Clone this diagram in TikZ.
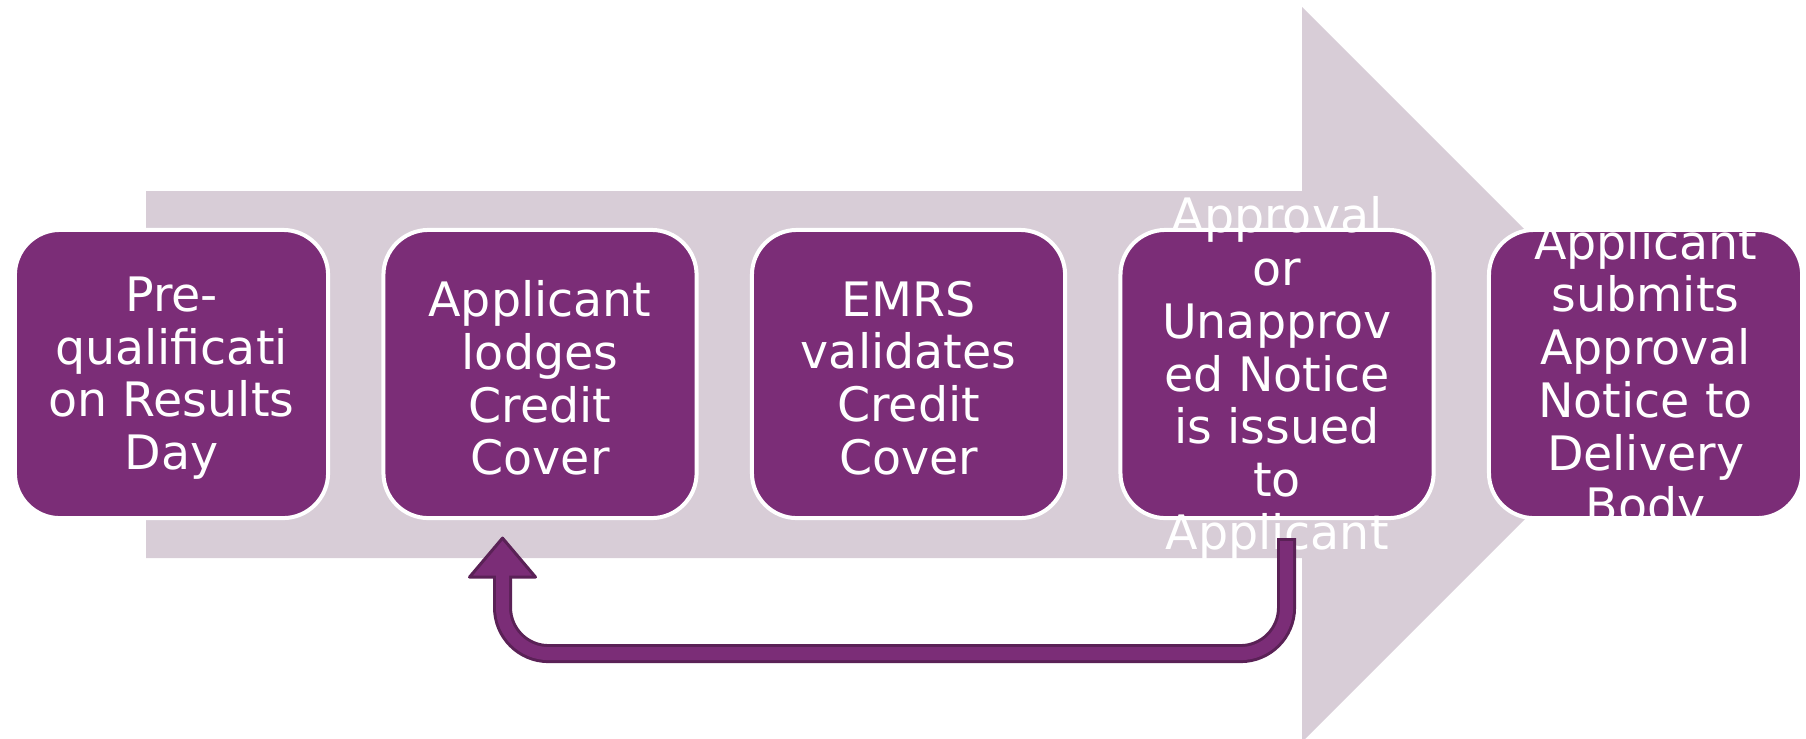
\documentclass[tikz,border=0pt]{standalone}
\usepackage{fontspec}
\newfontfamily\boxfont{DejaVu Sans}
\usetikzlibrary{positioning, calc}
\definecolor{boxpurple}{RGB}{123,45,119}
\definecolor{arrowgrey}{RGB}{216,205,215}
\definecolor{darkpurple}{RGB}{90,33,86}
\tikzset{stepbox/.style={rectangle, rounded corners=0.45cm, fill=boxpurple, draw=white, line width=0.04cm, minimum width=3.13cm, minimum height=2.88cm, inner sep=0pt, outer sep=0pt}}
\tikzset{steptext/.style={text=white, font=\boxfont\fontsize{13.5}{15}\selectfont, align=center, inner sep=0pt, yshift=-0.04cm}}

\begin{document}
\begin{tikzpicture}[x=0.01cm, y=-0.01cm, node distance=0.553cm]
  \useasboundingbox (0,0) rectangle (1806,738);
  \clip (0,0) rectangle (1806,738);

  \fill[arrowgrey] (146,191) -- (1302,191) -- (1302,7) -- (1669.5,374.5)
    -- (1302,742) -- (1302,558) -- (146,558) -- cycle;

  \node[stepbox] (s1) at (171.5,374) [label={[steptext]center:Pre-\\qualificati\\on Results\\Day}] {};
  \node[stepbox] (s2) [right=of s1, label={[steptext]center:Applicant\\lodges\\Credit\\Cover}] {};
  \node[stepbox] (s3) [right=of s2, label={[steptext]center:EMRS\\validates\\Credit\\Cover}] {};
  \node[stepbox] (s4) [right=of s3, label={[steptext]center:Approval\\or\\Unapprov\\ed Notice\\is issued\\to\\Applicant}] {};
  \node[stepbox] (s5) [right=of s4, label={[steptext]center:Applicant\\submits\\Approval\\Notice to\\Delivery\\Body}] {};

  % loop back from s4 to s2
  \coordinate (fbR) at ($(s4.south)+(9.5,20)$);
  \coordinate (fbL) at ($(s2.south)+(-37.5,20)$);
  \draw[darkpurple, line width=0.19cm, rounded corners=0.46cm] (fbR) |- ($(fbL)+(0,115.5)$) -- ($(fbL)+(0,39)$);
  \filldraw[fill=boxpurple, draw=darkpurple, line width=0.03cm, line join=round] ($(fbL)+(-33,39)$) -- (fbL) -- ($(fbL)+(33,39)$) -- cycle;
  \draw[boxpurple, line width=0.13cm, rounded corners=0.46cm] ($(fbR)+(0,3)$) |- ($(fbL)+(0,115.5)$) -- ($(fbL)+(0,37)$);

\end{tikzpicture}
\end{document}
